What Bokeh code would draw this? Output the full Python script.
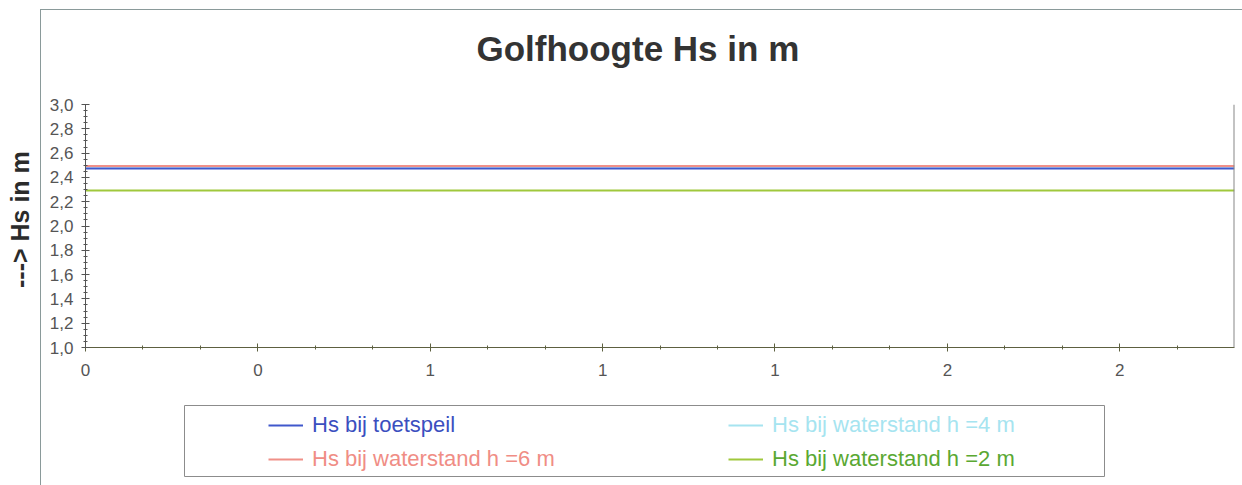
from bokeh.plotting import figure
from bokeh.models import (FixedTicker, Range1d, Legend, LegendItem, Span, Div, Title,
                          BoxAnnotation)
from bokeh.layouts import row, column
from bokeh.embed import file_html
from bokeh.resources import INLINE

# ---- data ----
x_vals = [0.0, 2.333]
hs_toetspeil = [2.473, 2.473]
hs_h6 = [2.494, 2.494]
hs_h4 = [2.49, 2.49]
hs_h2 = [2.292, 2.292]
x_tick_values = [0.0, 0.35, 0.7, 1.05, 1.4, 1.75, 2.1]
x_tick_labels = ["0", "0", "1", "1", "1", "2", "2"]
y_tick_values = [1.0, 1.2, 1.4, 1.6, 1.8, 2.0, 2.2, 2.4, 2.6, 2.8, 3.0]
y_tick_labels = ["1,0", "1,2", "1,4", "1,6", "1,8", "2,0", "2,2", "2,4", "2,6", "2,8", "3,0"]
series_names = ["Hs bij toetspeil", "Hs bij waterstand h =6 m",
                "Hs bij waterstand h =4 m", "Hs bij waterstand h =2 m"]
series_colors = ["#4058cc", "#f09088", "#a6e4f0", "#a0c83c"]
label_colors = ["#3b4fbf", "#f08d85", "#a6e4f0", "#5aa832"]

FONT = "Liberation Sans"
BORDER = "#8a9a9a"

# ---- main chart ----
p = figure(width=1201, height=385, output_backend="svg", toolbar_location=None,
           title=None,
           x_range=Range1d(0, 2.333), y_range=Range1d(1.0, 3.0),
           min_border_left=44, min_border_right=8, min_border_top=94, min_border_bottom=48)
p.outline_line_color = None

# spacer panel between title and frame, then the title itself
p.add_layout(Title(text=" ", text_font_size="1px", standoff=34), "above")
p.add_layout(Title(text="Golfhoogte Hs in m", text_font=FONT, text_font_size="35px",
                   text_font_style="bold", text_color="#333333", align="left",
                   offset=391, standoff=0), "above")

p.xaxis.ticker = FixedTicker(ticks=x_tick_values,
                             minor_ticks=[i * 0.35 / 3 for i in range(21)])
p.xaxis.major_label_overrides = {v: l for v, l in zip(x_tick_values, x_tick_labels)}
p.yaxis.ticker = FixedTicker(ticks=y_tick_values,
                             minor_ticks=[1.0 + i * 0.05 for i in range(41)])
p.yaxis.major_label_overrides = {v: l for v, l in zip(y_tick_values, y_tick_labels)}
for ax in (p.xaxis[0], p.yaxis[0]):
    ax.major_label_text_font = FONT
    ax.major_label_text_font_size = "17px"
    ax.major_label_text_color = "#555555"
    ax.major_tick_in = 4
    ax.major_tick_out = 4
    ax.minor_tick_in = 2
    ax.minor_tick_out = 2
p.xaxis.axis_line_color = "#5d6040"
p.xaxis.major_tick_line_color = "#5d6040"
p.xaxis.minor_tick_line_color = "#5d6040"
p.yaxis.axis_line_color = "#555555"
p.yaxis.major_tick_line_color = "#555555"
p.yaxis.minor_tick_line_color = "#555555"
p.xaxis.major_label_standoff = 12
p.yaxis.major_label_standoff = 8

p.xgrid.visible = False
p.ygrid.ticker = FixedTicker(ticks=[3.0])
p.ygrid.grid_line_color = "#c8c8c8"
p.ygrid.grid_line_dash = "8 6"

series = [hs_toetspeil, hs_h6, hs_h4, hs_h2]
draw_order = [2, 1, 0, 3]
for i in draw_order:
    p.line(x_vals, series[i], line_color=series_colors[i], line_width=2)

p.add_layout(Span(location=2.333, dimension="height", line_color="#888888", line_width=2))

# ---- legend panel ----
p2 = figure(width=1201, height=90, output_backend="svg", toolbar_location=None,
            x_range=Range1d(0, 1), y_range=Range1d(0, 1),
            x_axis_type=None, y_axis_type=None,
            min_border_left=44, min_border_right=8, min_border_top=2, min_border_bottom=2)
p2.grid.visible = False
p2.outline_line_color = None

p2.add_layout(BoxAnnotation(left=143, right=1063, top=10, bottom=81,
                            left_units="canvas", right_units="canvas",
                            top_units="canvas", bottom_units="canvas",
                            fill_alpha=0, line_color="#8c8c8c", line_alpha=1.0,
                            line_width=1))

leg_pos = [(183, 45), (183, 11), (643, 45), (643, 11)]
for i in range(4):
    # same series, off-range here: used only for the legend samples
    r = p2.line(x_vals, series[i], line_color=series_colors[i], line_width=2)
    lg = Legend(items=[LegendItem(label=series_names[i], renderers=[r])], location=leg_pos[i],
                background_fill_alpha=0, border_line_color=None, padding=0, margin=0,
                glyph_width=35, glyph_height=22, label_standoff=9, label_height=22,
                label_text_font=FONT, label_text_font_size="22px",
                label_text_color=label_colors[i])
    p2.add_layout(lg)

ylab = Div(text="---&gt; Hs in m", width=40, height=440, margin=0,
           styles={"writing-mode": "vertical-rl", "transform": "rotate(180deg)",
                   "text-align": "center", "line-height": "40px",
                   "font-family": FONT, "font-weight": "bold", "font-size": "25px",
                   "color": "#2b2b2b", "white-space": "nowrap"})

right = column(p, p2, spacing=0, margin=(9, 0, 0, 0),
               styles={"border-left": "1px solid " + BORDER, "border-top": "1px solid " + BORDER})
layout = row(ylab, right, spacing=0, margin=0)

open("out.html", "w").write(file_html(layout, INLINE))
